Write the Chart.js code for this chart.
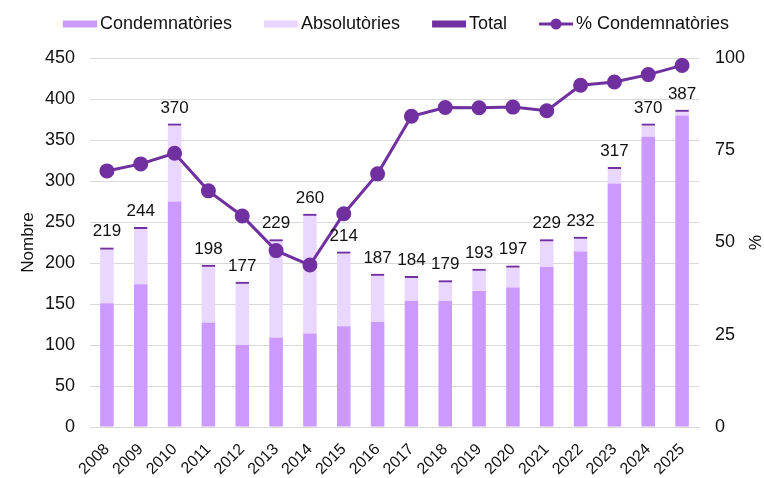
<!DOCTYPE html>
<html>
<head>
<meta charset="utf-8">
<script src="https://cdn.jsdelivr.net/npm/chart.js@4"></script>
<style>
    html, body { margin: 0; padding: 0; background: #fff; }
    #wrap { width: 764px; height: 478px; }
</style>
</head>
<body>
<div id="wrap"><canvas id="chart" width="764" height="478"></canvas></div>
<script>
const years = ["2008", "2009", "2010", "2011", "2012", "2013", "2014", "2015", "2016",
    "2017", "2018", "2019", "2020", "2021", "2022", "2023", "2024", "2025"];
const condemnatories = [151, 174, 275, 127, 100, 109, 114, 123, 128, 154, 154, 166, 170, 195, 214, 297, 354, 380];
const absolutories = [68, 70, 95, 71, 77, 120, 146, 91, 59, 30, 25, 27, 27, 34, 18, 20, 16, 7];
const totals = [219, 244, 370, 198, 177, 229, 260, 214, 187, 184, 179, 193, 197, 229, 232, 317, 370, 387];
const pctCondemnatories = [69.4, 71.3, 74.2, 64, 57.2, 47.8, 43.9, 57.8, 68.6, 84.2, 86.6, 86.5, 86.7, 85.7, 92.6, 93.5, 95.5, 98.0];

const leftTicks = [0, 50, 100, 150, 200, 250, 300, 350, 400, 450];
const rightTicks = [0, 25, 50, 75, 100];

const cCondemn = "#cc99ff";
const cAbsol = "#ead7ff";
const cTotal = "#7030a0";
const cLine = "#7030a0";

const numFont = "'Liberation Sans', Arial, sans-serif";

// little legend symbols (box sits on the right so it hugs the text)
function legendSwatch(kind, color) {
    let c = document.createElement("canvas");
    c.width = 40;
    c.height = 14;
    let g = c.getContext("2d");
    if (kind === "line") {
        g.strokeStyle = color;
        g.lineWidth = 3;
        g.beginPath();
        g.moveTo(6, 7);
        g.lineTo(40, 7);
        g.stroke();
        g.fillStyle = color;
        g.beginPath();
        g.arc(23, 7, 5.5, 0, Math.PI * 2);
        g.fill();
    } else {
        g.fillStyle = color;
        g.fillRect(6, 3.5, 34, 7);
    }
    return c;
}

// total labels above the bars
const totalLabels = {
    id: "totalLabels",
    afterDatasetsDraw(chart) {
        let ctx = chart.ctx;
        let meta = chart.getDatasetMeta(2);
        ctx.save();
        ctx.font = "17px " + numFont;
        ctx.fillStyle = "#111";
        ctx.textAlign = "center";
        ctx.textBaseline = "alphabetic";
        meta.data.forEach((bar, i) => {
            ctx.fillText(String(totals[i]), bar.x, bar.y - 11);
        });
        ctx.restore();
    }
};

// legend needs wide gaps between items but not the tall box that comes with them
const legendFix = {
    id: "legendFix",
    beforeInit(chart) {
        let fit = chart.legend.fit;
        chart.legend.fit = function () {
            fit.call(this);
            this.height = 75;
        };
    },
    afterLayout(chart) {
        chart.legend.left += 5;
        chart.legend.right += 5;
    }
};

let ctx = document.getElementById("chart").getContext("2d");
new Chart(ctx, {
    data: {
        labels: years,
        datasets: [
            {
                type: "bar",
                label: "Condemnatòries",
                data: condemnatories,
                backgroundColor: cCondemn,
                stack: "parts",
                grouped: false,
                order: 2,
                yAxisID: "y"
            },
            {
                type: "bar",
                label: "Absolutòries",
                data: absolutories,
                backgroundColor: cAbsol,
                stack: "parts",
                grouped: false,
                order: 2,
                yAxisID: "y"
            },
            {
                type: "bar",
                label: "Total",
                data: totals,
                backgroundColor: "rgba(0,0,0,0)",
                borderColor: cTotal,
                borderWidth: { top: 2, left: 0, right: 0, bottom: 0 },
                borderSkipped: false,
                stack: "total",
                grouped: false,
                order: 1,
                yAxisID: "y"
            },
            {
                type: "line",
                label: "% Condemnatòries",
                data: pctCondemnatories,
                borderColor: cLine,
                backgroundColor: cLine,
                borderWidth: 3,
                pointRadius: 6,
                pointHoverRadius: 6,
                tension: 0,
                order: 0,
                yAxisID: "y1"
            }
        ]
    },
    options: {
        responsive: false,
        animation: false,
        layout: { padding: { top: -17, right: 0, left: 18, bottom: 0 } },
        datasets: {
            bar: { barPercentage: 0.5, categoryPercentage: 0.8 }
        },
        scales: {
            x: {
                stacked: true,
                grid: { display: false },
                border: { color: "#d9d9d9" },
                afterFit: axis => { axis.height = 51; },
                ticks: {
                    color: "#111",
                    font: { size: 16, family: numFont },
                    maxRotation: 45,
                    minRotation: 45,
                    padding: 5
                }
            },
            y: {
                position: "left",
                stacked: true,
                min: 0,
                max: 450,
                afterBuildTicks: axis => { axis.ticks = leftTicks.map(v => ({ value: v })); },
                afterFit: axis => { axis.width = 72; },
                grid: { color: "#d9d9d9", lineWidth: 1, drawTicks: false },
                border: { display: false },
                ticks: { color: "#111", font: { size: 18, family: numFont }, padding: 15 },
                title: {
                    display: true,
                    text: "Nombre",
                    color: "#111",
                    font: { size: 17, family: numFont },
                    padding: 0
                }
            },
            y1: {
                position: "right",
                min: 0,
                max: 100,
                afterBuildTicks: axis => { axis.ticks = rightTicks.map(v => ({ value: v })); },
                afterFit: axis => { axis.width = 65; },
                grid: { display: false, drawTicks: false },
                border: { display: false },
                ticks: { color: "#111", font: { size: 18, family: numFont }, padding: 16 },
                title: {
                    display: true,
                    text: "%",
                    color: "#111",
                    font: { size: 17, family: numFont },
                    padding: 0
                }
            }
        },
        plugins: {
            tooltip: { enabled: false },
            legend: {
                position: "top",
                labels: {
                    color: "#111",
                    font: { size: 18, family: numFont },
                    usePointStyle: true,
                    pointStyleWidth: 28,
                    padding: 32,
                    sort: (a, b) => a.datasetIndex - b.datasetIndex,
                    generateLabels: chart => {
                        let items = Chart.defaults.plugins.legend.labels.generateLabels(chart);
                        items.forEach(item => {
                            let ds = chart.data.datasets[item.datasetIndex];
                            if (ds.type === "line") {
                                item.pointStyle = legendSwatch("line", cLine);
                            } else if (ds.label === "Total") {
                                item.pointStyle = legendSwatch("box", cTotal);
                            } else {
                                item.pointStyle = legendSwatch("box", ds.backgroundColor);
                            }
                            item.lineWidth = 0;
                            item.strokeStyle = "rgba(0,0,0,0)";
                        });
                        return items;
                    }
                }
            }
        }
    },
    plugins: [totalLabels, legendFix]
});
</script>
</body>
</html>
